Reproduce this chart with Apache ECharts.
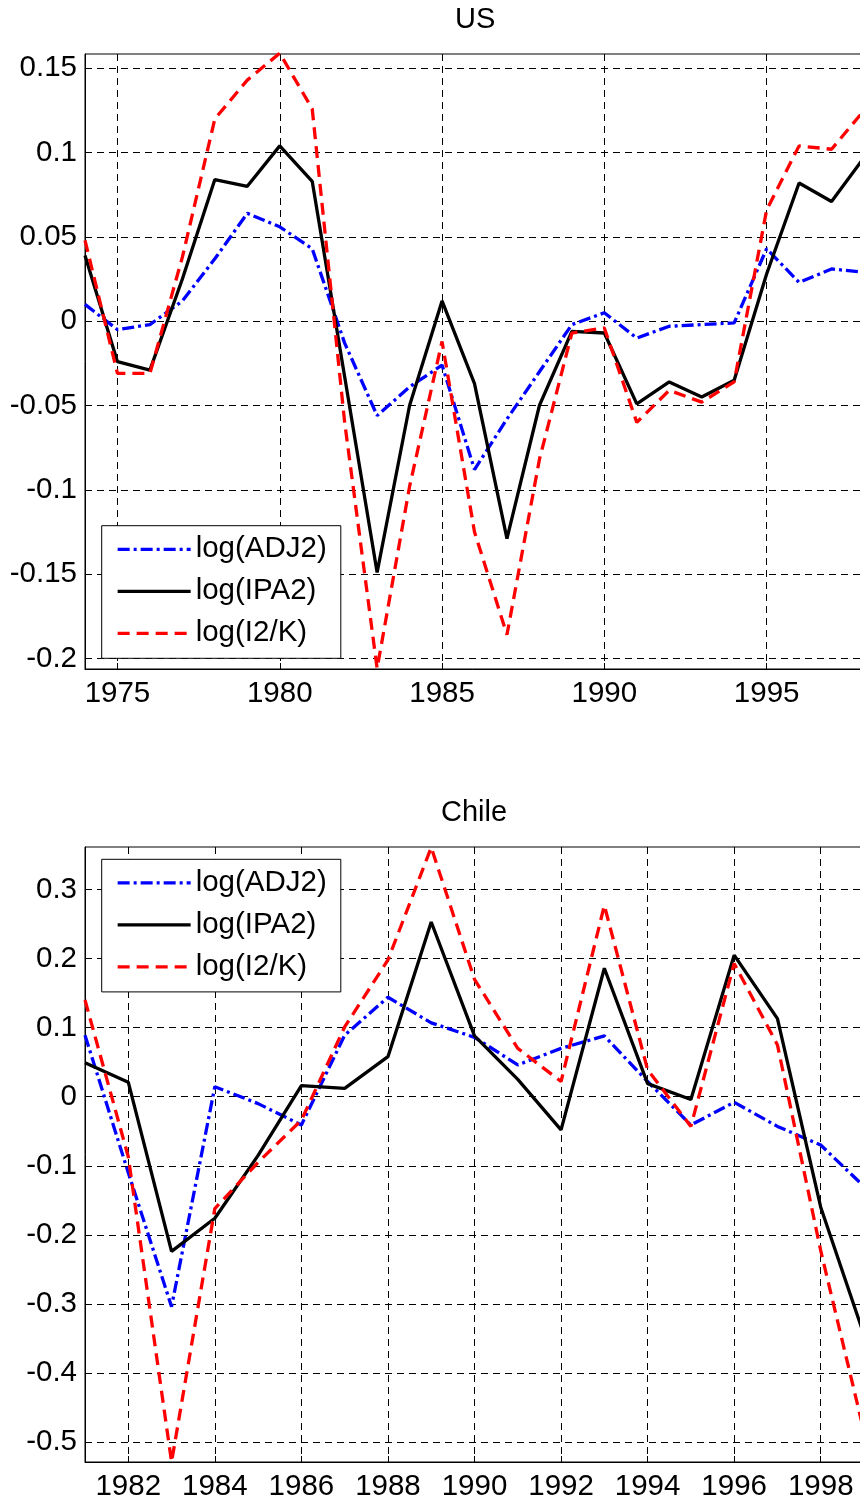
<!DOCTYPE html>
<html>
<head>
<meta charset="utf-8">
<script src="https://cdn.jsdelivr.net/npm/echarts@6/dist/echarts.min.js"></script>
<style>
  html, body { margin: 0; padding: 0; background: #fff; }
  #chart { width: 860px; height: 1503px; }
</style>
</head>
<body>
<div id="chart"></div>
<script>
// ---------------- data ----------------
const seriesNames = ['log(ADJ2)', 'log(IPA2)', 'log(I2/K)'];

const usYears = [1974, 1975, 1976, 1977, 1978, 1979, 1980, 1981, 1982, 1983, 1984, 1985, 1986,
                 1987, 1988, 1989, 1990, 1991, 1992, 1993, 1994, 1995, 1996, 1997, 1998];
const usADJ2 = [0.010, -0.005, -0.002, 0.012, 0.037, 0.064, 0.056, 0.043, -0.013, -0.056, -0.039, -0.026, -0.088,
                -0.058, -0.030, -0.002, 0.005, -0.010, -0.003, -0.002, -0.001, 0.043, 0.023, 0.031, 0.029];
const usIPA2 = [0.039, -0.024, -0.029, 0.025, 0.084, 0.080, 0.104, 0.083, -0.033, -0.149, -0.050, 0.012, -0.037,
                -0.129, -0.050, -0.006, -0.007, -0.049, -0.036, -0.045, -0.035, 0.028, 0.082, 0.071, 0.097];
const usI2K  = [0.048, -0.031, -0.031, 0.038, 0.120, 0.143, 0.159, 0.126, -0.060, -0.206, -0.098, -0.012, -0.125,
                -0.186, -0.082, -0.007, -0.004, -0.060, -0.041, -0.048, -0.036, 0.066, 0.104, 0.102, 0.125];

const chYears = [1981, 1982, 1983, 1984, 1985, 1986, 1987, 1988, 1989, 1990,
                 1991, 1992, 1993, 1994, 1995, 1996, 1997, 1998, 1999];
const chADJ2 = [0.089, -0.110, -0.304, 0.0145, -0.010, -0.041, 0.089, 0.144, 0.107, 0.086,
                0.046, 0.070, 0.088, 0.022, -0.041, -0.008, -0.043, -0.070, -0.130];
const chIPA2 = [0.049, 0.021, -0.224, -0.176, -0.085, 0.016, 0.012, 0.058, 0.253, 0.088,
                0.025, -0.048, 0.186, 0.019, -0.004, 0.205, 0.113, -0.160, -0.345];
const chI2K  = [0.140, -0.087, -0.529, -0.162, -0.095, -0.034, 0.101, 0.198, 0.361, 0.170,
                0.070, 0.022, 0.277, 0.039, -0.043, 0.193, 0.075, -0.223, -0.485];

const usXTicks = [1975, 1980, 1985, 1990, 1995];
const usYTicks = [-0.2, -0.15, -0.1, -0.05, 0, 0.05, 0.1, 0.15];
const chXTicks = [1982, 1984, 1986, 1988, 1990, 1992, 1994, 1996, 1998];
const chYTicks = [-0.5, -0.4, -0.3, -0.2, -0.1, 0, 0.1, 0.2, 0.3];

// ---------------- styling ----------------
const FONT = 'Liberation Sans, Arial, Helvetica, sans-serif';
const FS = 29.5;
const LW = 3.3;
const colors = ['#0000ff', '#000000', '#ff0000'];
const lineStyles = [
  { color: colors[0], width: LW, type: [12, 4, 3, 4] },
  { color: colors[1], width: LW, type: 'solid' },
  { color: colors[2], width: LW, type: [12, 7] }
];

function pairs(xs, ys) { return xs.map((x, i) => [x, ys[i]]); }
function fmt(v) { return String(+(+v).toFixed(2)); }

function xAxis(gridIndex, min, max, ticks) {
  return {
    type: 'value', gridIndex, min, max,
    axisLine: { show: true, onZero: false, lineStyle: { color: '#000', width: 1 } },
    axisTick: { show: true, inside: true, length: 6, customValues: ticks, lineStyle: { color: '#000' } },
    axisLabel: { customValues: ticks, formatter: v => String(Math.round(v)), fontSize: FS, fontFamily: FONT, color: '#000', margin: 10 },
    splitLine: { show: true, lineStyle: { color: '#000', width: 1, type: [7, 5] } }
  };
}
function yAxis(gridIndex, min, max, ticks) {
  return {
    type: 'value', gridIndex, min, max,
    axisLine: { show: true, onZero: false, lineStyle: { color: '#000', width: 1 } },
    axisTick: { show: true, inside: true, length: 6, customValues: ticks, lineStyle: { color: '#000' } },
    axisLabel: { customValues: ticks, formatter: fmt, fontSize: FS, fontFamily: FONT, color: '#000', margin: 8 },
    splitLine: { show: true, lineStyle: { color: '#000', width: 1, type: [7, 5] } }
  };
}
function legend(top) {
  return {
    orient: 'vertical', left: 101.7, top: top,
    data: seriesNames, selectedMode: false,
    itemWidth: 73, itemHeight: 20, itemGap: 12,
    padding: [8.6, 14, 10, 14.3],
    backgroundColor: '#fff', borderColor: '#000', borderWidth: 1,
    itemStyle: { color: 'transparent', opacity: 0, borderWidth: 0 },
    lineStyle: { width: LW },
    textStyle: { fontSize: FS, fontFamily: FONT, color: '#000', lineHeight: 28 }
  };
}

const usData = [usADJ2, usIPA2, usI2K];
const chData = [chADJ2, chIPA2, chI2K];
const series = [];
usData.forEach((d, i) => series.push({
  name: seriesNames[i], type: 'line', xAxisIndex: 0, yAxisIndex: 0,
  data: pairs(usYears, d), symbol: 'none', itemStyle: { color: colors[i] }, lineStyle: lineStyles[i], silent: true
}));
chData.forEach((d, i) => series.push({
  name: seriesNames[i], type: 'line', xAxisIndex: 1, yAxisIndex: 1,
  data: pairs(chYears, d), symbol: 'none', itemStyle: { color: colors[i] }, lineStyle: lineStyles[i], silent: true
}));

const titleStyle = { fontSize: 29, fontWeight: 'normal', fontFamily: FONT, color: '#000' };
const chart = echarts.init(document.getElementById('chart'), null, { renderer: 'canvas' });
chart.setOption({
  animation: false,
  backgroundColor: '#fff',
  title: [
    { text: 'US', left: 455, top: 5, padding: 0, textStyle: titleStyle },
    { text: 'Chile', left: 441, top: 798.5, padding: 0, textStyle: titleStyle }
  ],
  grid: [
    { left: 85, top: 54, width: 779, height: 615, show: true, borderColor: '#000', borderWidth: 1, backgroundColor: 'transparent', containLabel: false, outerBoundsMode: 'none' },
    { left: 85, top: 847, width: 779, height: 615, show: true, borderColor: '#000', borderWidth: 1, backgroundColor: 'transparent', containLabel: false, outerBoundsMode: 'none' }
  ],
  xAxis: [xAxis(0, 1974, 1998, usXTicks), xAxis(1, 1981, 1999, chXTicks)],
  yAxis: [yAxis(0, -0.2063, 0.1585, usYTicks), yAxis(1, -0.529, 0.3616, chYTicks)],
  legend: [legend(525.7), legend(859.3)],
  series: series
});
</script>
</body>
</html>
